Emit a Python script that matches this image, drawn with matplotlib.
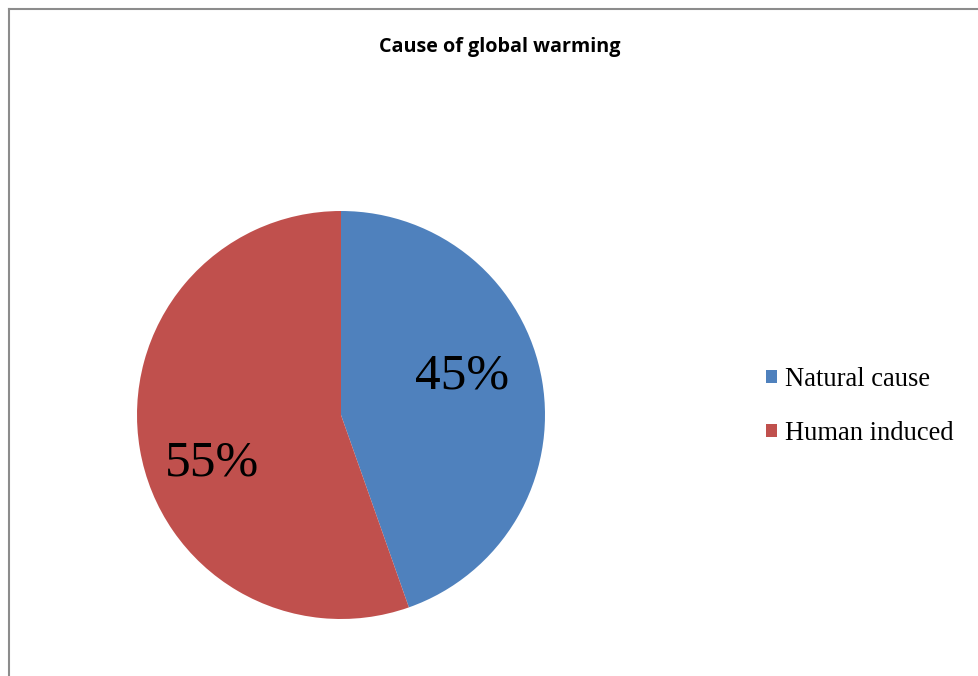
import matplotlib.pyplot as plt
from matplotlib.lines import Line2D

# Data
labels = ['Natural cause', 'Human induced']
values = [44.6, 55.4]  # slice shares as drawn; labels show them rounded
colors = ['#4F81BD', '#C0504D']
title = 'Cause of global warming'

W, H = 979, 676
fig = plt.figure(figsize=(W / 100, H / 100), dpi=100)

# chart border (only left and top edges visible)
fig.add_artist(Line2D([9 / W, 9 / W], [0, 1 - 9 / H], color='#8c8c8c', lw=1.5))
fig.add_artist(Line2D([9 / W, 1], [1 - 9 / H, 1 - 9 / H], color='#8c8c8c', lw=1.5))

# pie axes: centre (341, 415), radius 204 px
cx, cy, r = 341, 415, 204
ax = fig.add_axes([(cx - r) / W, (H - cy - r) / H, 2 * r / W, 2 * r / H])
wedges, texts = ax.pie(values, colors=colors, startangle=90, counterclock=False,
                       radius=1, wedgeprops=dict(linewidth=0))
ax.set_xlim(-1, 1)
ax.set_ylim(-1, 1)
ax.set_aspect('equal')
ax.axis('off')

# percentage labels
label_pos = [(0.595, 0.19), (-0.63, -0.235)]
for v, (x, y) in zip(values, label_pos):
  ax.text(x, y, f'{round(v)}%', ha='center', va='center', fontsize=37,
          family='Liberation Serif')

fig.text(500 / W, 1 - 47 / H, title, ha='center', va='center', fontsize=14.2,
         fontweight='bold', family=['Liberation Sans Narrow', 'Open Sans'])

fig.legend(wedges, labels, loc='center left', bbox_to_anchor=(766 / W, 1 - 406.5 / H),
           frameon=False, prop={'family': 'Liberation Serif', 'size': 19.1},
           handlelength=0.4, handleheight=0.4, handletextpad=0.3,
           labelspacing=1.08, borderpad=0, borderaxespad=0)

fig.savefig('out.png', dpi=100)
